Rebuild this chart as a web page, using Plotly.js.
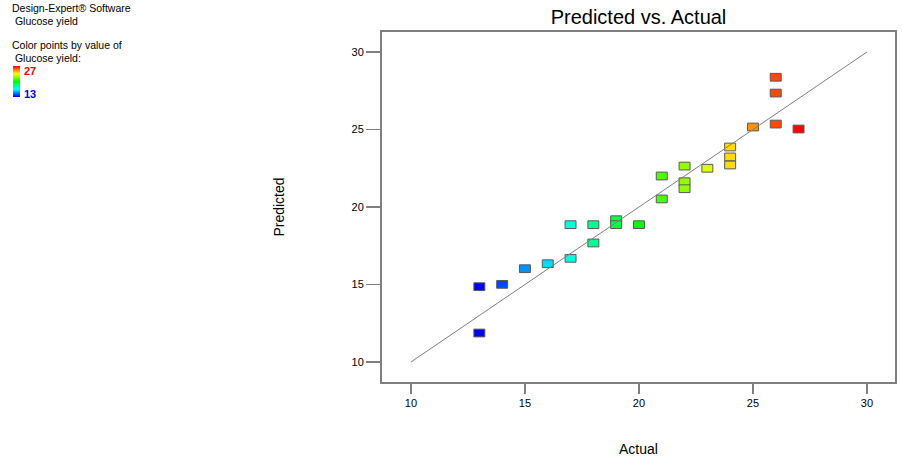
<!DOCTYPE html>
<html>
<head>
<meta charset="utf-8">
<script src="https://cdn.plot.ly/plotly-3.0.1.min.js"></script>
<style>html,body{margin:0;padding:0;background:#fff;}#chart{width:903px;height:458px;}</style>
</head>
<body>
<div id="chart"></div>
<script>
// Data
var actual    = [13, 13, 14, 15, 16, 17, 17, 18, 18, 19, 19, 20, 21, 21, 22, 22, 22, 23, 24, 24, 24, 25, 26, 26, 26, 27];
var predicted = [11.87, 14.86, 15.01, 16.02, 16.34, 18.86, 16.69, 18.86, 17.68, 19.18, 18.86, 18.86, 22.0, 20.52, 22.64, 21.63, 21.18, 22.5, 23.87, 23.23, 22.71, 25.16, 28.37, 27.35, 25.35, 25.03];
var fitLine   = [10, 30];
var colorMin = 13, colorMax = 27;
var xTicks = [10, 15, 20, 25, 30];
var yTicks = [10, 15, 20, 25, 30];

var boxW = 0.48, boxH = 0.5; // rectangle marker size in data units
var bases = predicted.map(function(v){ return v - boxH/2; });
var heights = predicted.map(function(){ return boxH; });

var font = "Arial, 'Liberation Sans', sans-serif";
var rainbow = [[0,'#0000ff'],[0.25,'#00ffff'],[0.5,'#00ff00'],[0.75,'#ffff00'],[1,'#ff0000']];

var traces = [
  {
    type: 'bar',
    x: actual,
    y: heights,
    base: bases,
    width: boxW,
    textposition: 'none',
    marker: {
      color: actual,
      colorscale: rainbow,
      cmin: colorMin,
      cmax: colorMax,
      cornerradius: 0,
      line: {color: '#5a5a5a', width: 1},
      showscale: true,
      colorbar: {
        thickness: 7,
        thicknessmode: 'pixels',
        len: 31,
        lenmode: 'pixels',
        x: -0.7193,
        xanchor: 'left',
        y: 0.903,
        yanchor: 'top',
        xpad: 0,
        ypad: 0,
        outlinewidth: 0,
        showticklabels: false,
        ticks: ''
      }
    },
    hoverinfo: 'skip',
    showlegend: false
  },
  {
    type: 'scatter',
    mode: 'lines',
    x: fitLine,
    y: fitLine,
    line: {color: '#808080', width: 1},
    hoverinfo: 'skip',
    showlegend: false
  }
];

function pyToPaper(py){ return (382 - py) / 350; }
function pxToPaper(px){ return (px - 382) / 513; }

var annots = [
  {text: 'Design-Expert® Software', x: pxToPaper(10), y: pyToPaper(8)},
  {text: ' Glucose yield', x: pxToPaper(10), y: pyToPaper(21)},
  {text: 'Color points by value of', x: pxToPaper(10), y: pyToPaper(45)},
  {text: ' Glucose yield:', x: pxToPaper(10), y: pyToPaper(58)},
  {text: String(colorMax), x: pxToPaper(22), y: pyToPaper(70.5), color: '#ff0000', bold: true},
  {text: String(colorMin), x: pxToPaper(22), y: pyToPaper(94), color: '#0000ff', bold: true}
].map(function(a){
  return {
    text: a.text, xref: 'paper', yref: 'paper', x: a.x, y: a.y,
    xanchor: 'left', yanchor: 'middle', showarrow: false,
    font: {family: font, size: a.bold ? 11 : 10.5, color: a.color || '#000', weight: a.bold ? 'bold' : 'normal'}
  };
});

var layout = {
  width: 903,
  height: 458,
  margin: {l: 382, r: 8, t: 32, b: 76, pad: 0},
  paper_bgcolor: '#ffffff',
  plot_bgcolor: '#ffffff',
  font: {family: font, color: '#000'},
  title: {
    text: 'Predicted vs. Actual',
    font: {family: font, size: 20, color: '#000'},
    xref: 'paper', x: 0.5, xanchor: 'center',
    yref: 'container', y: 1 - 17/458, yanchor: 'middle'
  },
  barmode: 'overlay',
  xaxis: {
    range: [8.73, 31.23],
    tickvals: xTicks,
    ticktext: xTicks.map(String),
    showgrid: false, zeroline: false,
    showline: true, mirror: true, linecolor: '#808080', linewidth: 2,
    ticks: 'outside', ticklen: 10, tickwidth: 1.5, tickcolor: '#808080',
    tickfont: {family: font, size: 11, color: '#000'},
    title: {text: 'Actual', font: {family: font, size: 14, color: '#000'}, standoff: 36},
    fixedrange: true
  },
  yaxis: {
    range: [8.71, 31.29],
    tickvals: yTicks,
    ticktext: yTicks.map(String),
    showgrid: false, zeroline: false,
    showline: true, mirror: true, linecolor: '#808080', linewidth: 2,
    ticks: 'outside', ticklen: 14, tickwidth: 1.5, tickcolor: '#808080',
    tickfont: {family: font, size: 11, color: '#000'},
    title: {text: 'Predicted', font: {family: font, size: 14, color: '#000'}, standoff: 64},
    fixedrange: true
  },
  annotations: annots
};

Plotly.newPlot('chart', traces, layout, {displayModeBar: false, staticPlot: true});
</script>
</body>
</html>
